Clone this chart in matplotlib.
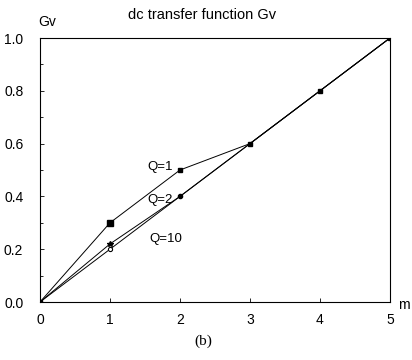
import matplotlib.pyplot as plt
from matplotlib.ticker import MultipleLocator

m = [0, 1, 2, 3, 4, 5]
gv_q1 = [0.0, 0.30, 0.50, 0.60, 0.80, 1.00]
gv_q2 = [0.0, 0.22, 0.40, 0.60, 0.80, 1.00]
gv_q10 = [0.0, 0.20, 0.40, 0.60, 0.80, 1.00]

xticks = [0, 1, 2, 3, 4, 5]
yticks = [0.0, 0.2, 0.4, 0.6, 0.8, 1.0]

plt.rcParams["font.family"] = ["Liberation Sans", "DejaVu Sans"]

fig = plt.figure(figsize=(4.12, 3.6), dpi=100)
ax = fig.add_axes([40 / 412, 1 - 302 / 360, 350 / 412, 264 / 360])

lw = 0.7
ax.plot(m, gv_q10, color="black", lw=lw)
ax.plot(m, gv_q2, color="black", lw=lw)
ax.plot(m, gv_q1, color="black", lw=lw)

# shared points
ax.plot([m[0]] + m[2:], [gv_q1[0]] + gv_q1[2:], ls="none", marker="s", ms=3.5, color="black")
ax.plot(m[1], gv_q1[1], ls="none", marker="s", ms=4.5, color="black")
ax.plot(m[1], gv_q2[1], ls="none", marker="*", ms=4, color="black")
ax.plot(m[1], gv_q10[1], ls="none", marker="o", ms=3, mfc="white", mec="black", mew=0.8)
ax.plot(m[2], gv_q2[2], ls="none", marker="o", ms=3, color="black")

ax.text(1.54, 0.511, "Q=1", fontsize=9.5, va="center")
ax.text(1.54, 0.386, "Q=2", fontsize=9.5, va="center")
ax.text(1.56, 0.239, "Q=10", fontsize=9.5, va="center")

ax.set_xlim(0, 5)
ax.set_ylim(0, 1)
ax.set_xticks(xticks)
ax.set_yticks(yticks)
ax.set_yticklabels([f"{v:.1f}" for v in yticks])
ax.yaxis.set_minor_locator(MultipleLocator(0.1))
ax.tick_params(which="both", direction="in", length=3, width=0.6, labelsize=10)
ax.tick_params(axis="y", pad=12)
ax.tick_params(axis="x", pad=8)
ax.tick_params(which="minor", length=2)
for s in ax.spines.values():
    s.set_linewidth(0.8)

fig.text(202 / 412, 1 - 15 / 360, "dc transfer function Gv", ha="center", va="center", fontsize=10.5)
fig.text(38 / 412, 1 - 22 / 360, "Gv", ha="left", va="center", fontsize=10)
fig.text(404 / 412, 1 - 305 / 360, "m", ha="center", va="center", fontsize=10)
fig.text(203 / 412, 1 - 341 / 360, "(b)", ha="center", va="center", fontsize=11, family="Liberation Serif")

fig.savefig("out.png", dpi=100)
